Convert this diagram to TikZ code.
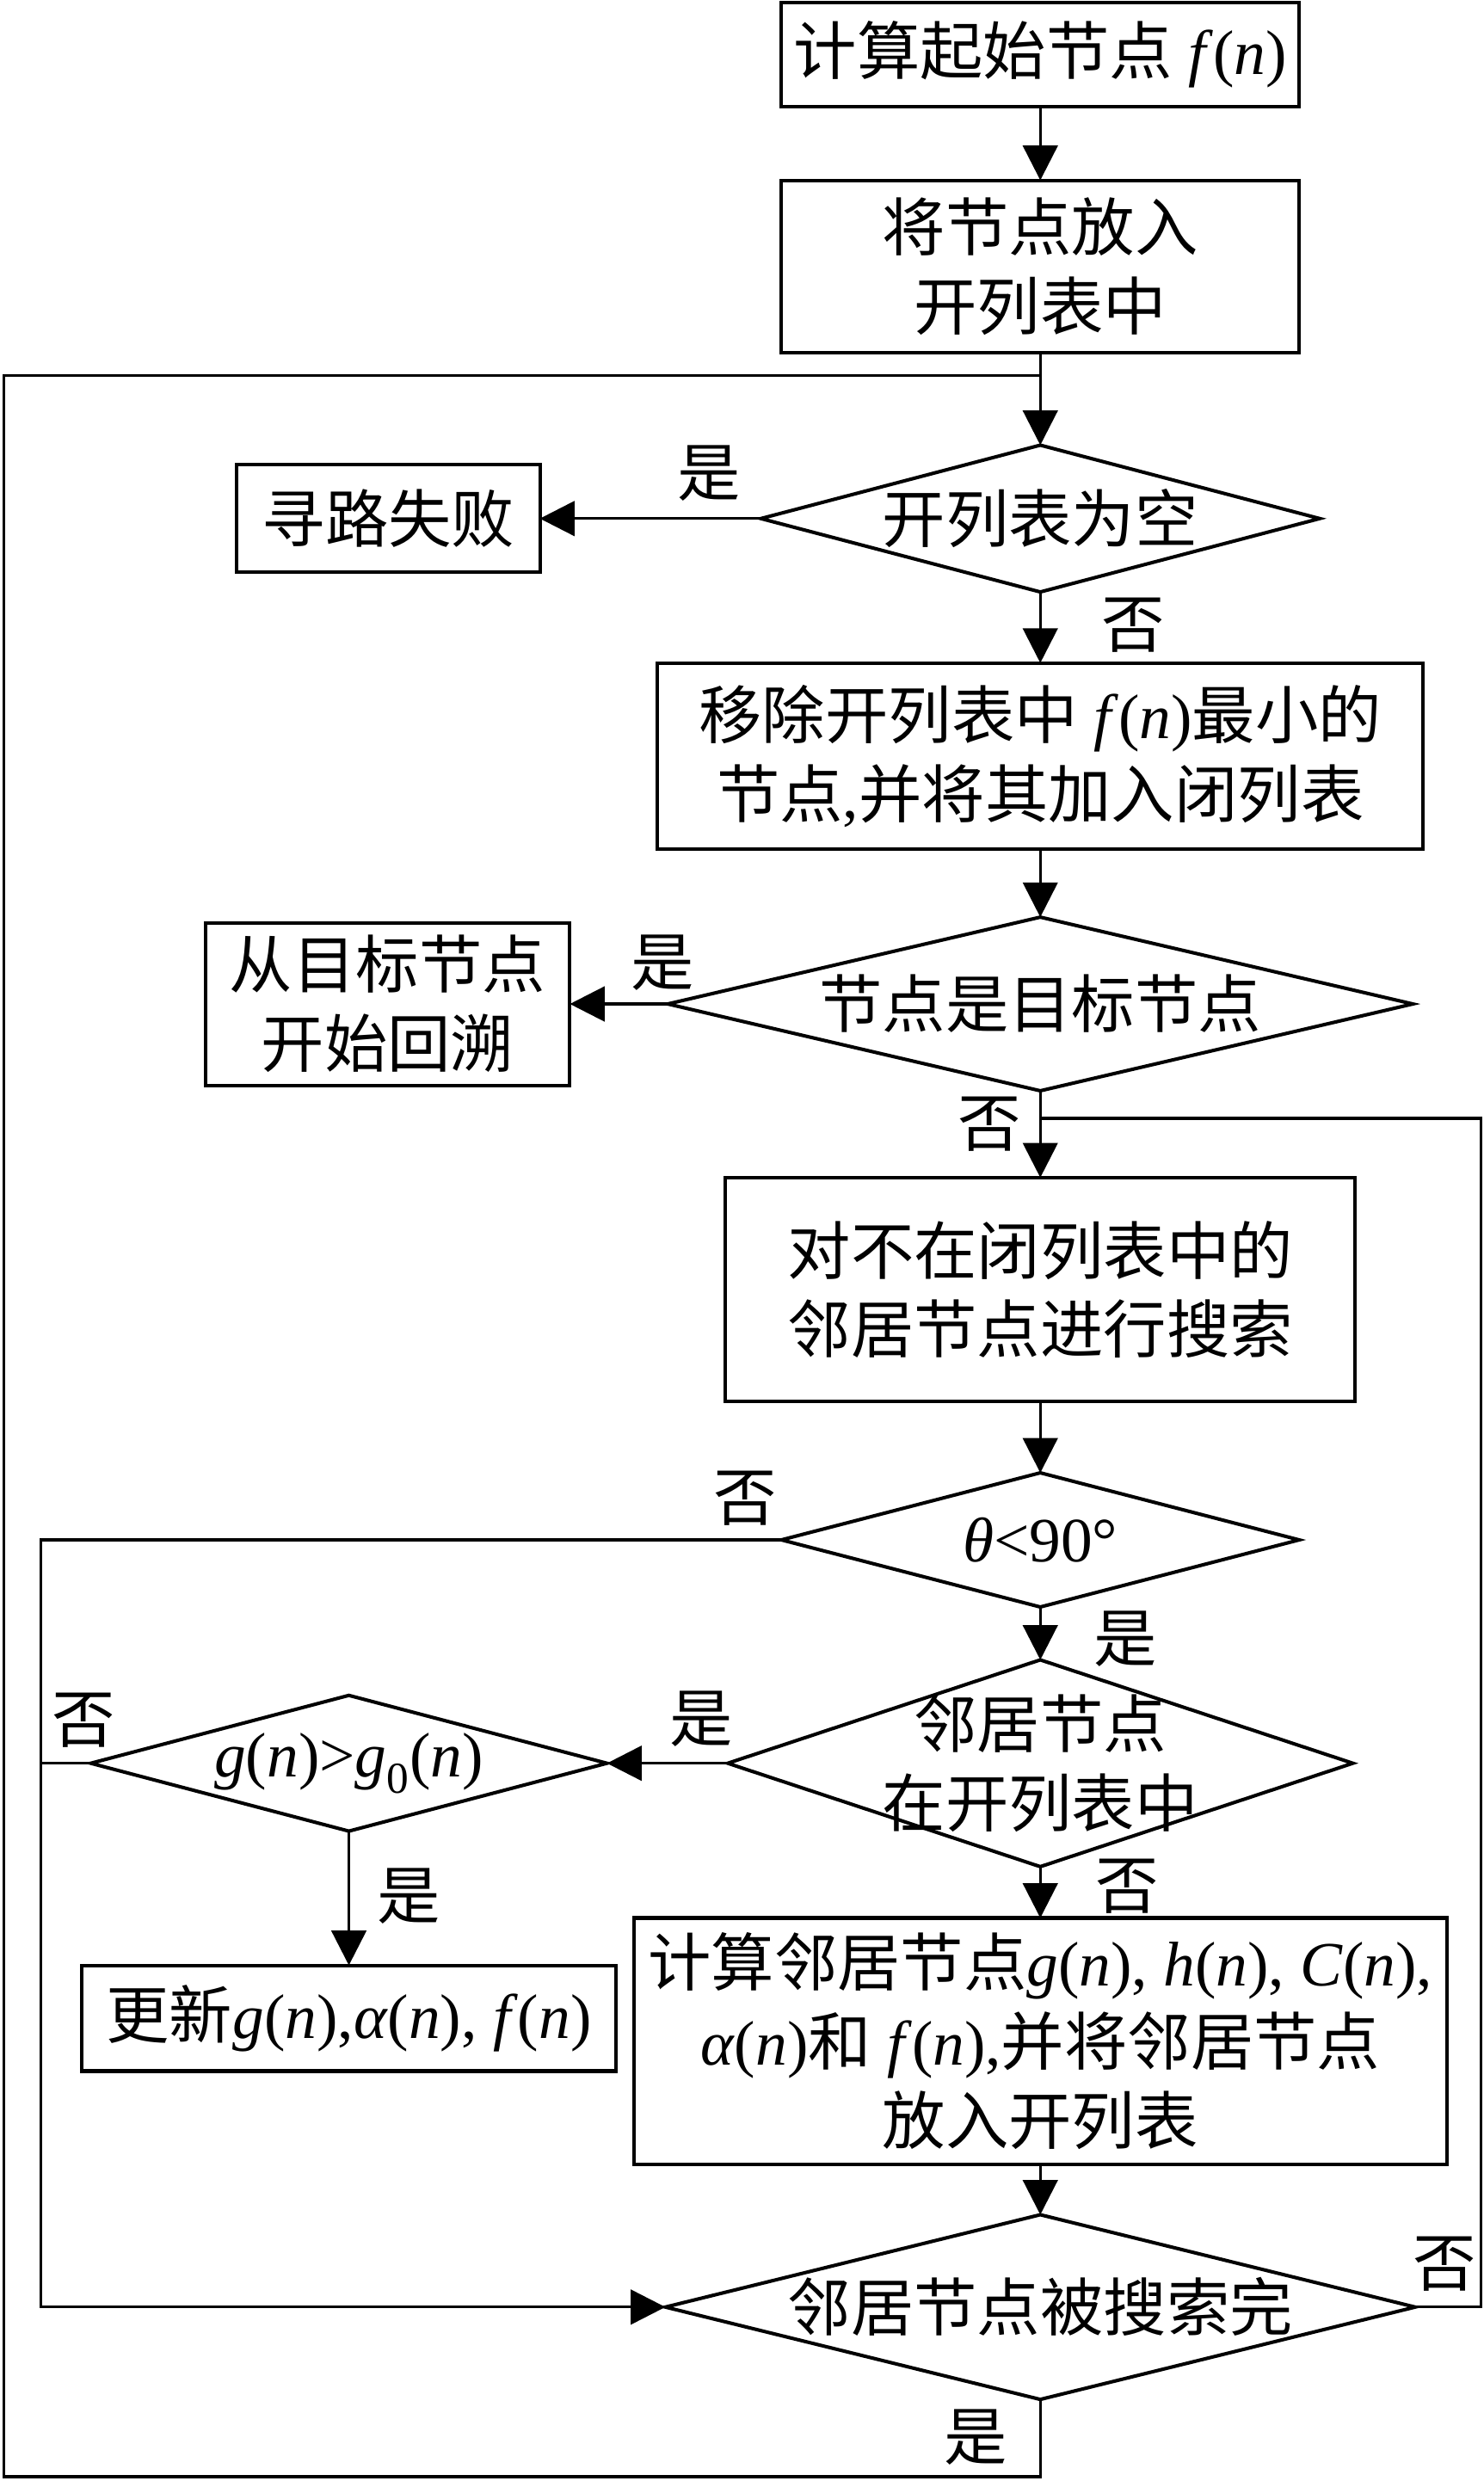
\documentclass[tikz,border=0pt]{standalone}
\usepackage{fontspec}
\setmainfont{Liberation Serif}
\newfontfamily\cjkfont{Noto Sans CJK SC}
\usetikzlibrary{shapes.geometric,arrows.meta}
\newcommand{\zh}[1]{{\cjkfont #1}}
\newcommand{\mi}[1]{\textit{#1}}

\begin{document}
\begin{tikzpicture}[x=1pt,y=-1pt,
    font=\fontsize{40}{50}\selectfont,
    >={Triangle[length=22pt,width=22pt]},
    line width=1.8pt,
    box/.style={draw,rectangle,line width=2.2pt,align=center,inner sep=2pt,outer sep=0pt},
    decision/.style={draw,diamond,line width=2.2pt,inner sep=0pt,outer sep=0pt},
    txt/.style={align=center,inner sep=0pt},
    lbl/.style={inner sep=0pt}]
   \useasboundingbox (0,0) rectangle (940,1571.7);

   % main column
   \node[box, minimum width=328pt, minimum height=66pt] (start) at (659,34.5) {\zh{计算起始节点} \mi{f}(\mi{n})};
   \node[box, minimum width=328pt, minimum height=109pt] (put) at (659,168.7) {\zh{将节点放入}\\\zh{开列表中}};
   \node[decision, minimum width=354pt, minimum height=93pt, label={[txt]center:{\zh{开列表为空}}}] (empty) at (659,328.5) {};
   \node[box, minimum width=192pt, minimum height=68pt] (fail) at (246,328.5) {\zh{寻路失败}};
   \node[box, minimum width=485pt, minimum height=118pt] (remove) at (659,479) {\zh{移除开列表中} \mi{f}(\mi{n})\zh{最小的}\\\zh{节点},\zh{并将其加入闭列表}};
   \node[decision, minimum width=472pt, minimum height=110pt, label={[txt]center:{\zh{节点是目标节点}}}] (goal) at (659,636) {};
   \node[box, minimum width=231pt, minimum height=103pt] (back_trace) at (245.5,636) {\zh{从目标节点}\\\zh{开始回溯}};
   \node[box, minimum width=399pt, minimum height=142pt] (search) at (659,817) {\zh{对不在闭列表中的}\\\zh{邻居节点进行搜索}};
   \node[decision, minimum width=328pt, minimum height=85pt, label={[txt]center:{\mi{θ}<90°}}] (angle) at (659,975.5) {};
   \node[decision, minimum width=396pt, minimum height=131pt, label={[txt]center:{\zh{邻居节点}\\\zh{在开列表中}}}] (in_open) at (659,1117) {};
   \node[decision, minimum width=327pt, minimum height=86pt, label={[txt]center:{\mi{g}(\mi{n})>\mi{g}\textsubscript{0}(\mi{n})}}] (cost) at (221,1117) {};
   \node[box, minimum width=338pt, minimum height=67pt] (update) at (221,1278.5) {\zh{更新}\mi{g}(\mi{n}),\mi{α}(\mi{n}), \mi{f}(\mi{n})};
   \node[box, minimum width=515pt, minimum height=156pt] (calc) at (659,1293) {\zh{计算邻居节点}\mi{g}(\mi{n}), \mi{h}(\mi{n}), \mi{C}(\mi{n}),\\\mi{α}(\mi{n})\zh{和} \mi{f}(\mi{n}),\zh{并将邻居节点}\\\zh{放入开列表}};
   \node[decision, minimum width=475pt, minimum height=117pt, label={[txt]center:{\zh{邻居节点被搜索完}}}] (done) at (659,1461.5) {};

   % yes / no
   \node[lbl] (yes_empty) at (449,300) {\zh{是}};
   \node[lbl] (no_empty) at (718,396) {\zh{否}};
   \node[lbl] (yes_goal) at (420,610) {\zh{是}};
   \node[lbl] (no_goal) at (627,712) {\zh{否}};
   \node[lbl] (no_angle) at (472,949) {\zh{否}};
   \node[lbl] (yes_angle) at (713,1038) {\zh{是}};
   \node[lbl] (yes_open) at (444,1089) {\zh{是}};
   \node[lbl] (no_cost) at (53,1090) {\zh{否}};
   \node[lbl] (yes_cost) at (259,1201) {\zh{是}};
   \node[lbl] (no_open) at (714,1195) {\zh{否}};
   \node[lbl] (no_done) at (915,1434) {\zh{否}};
   \node[lbl] (yes_done) at (618,1544) {\zh{是}};

   \coordinate (top_join) at (659,238);
   \coordinate (bottom_left) at (2.5,1569);
   \coordinate (right_top) at (938,708.5);
   \coordinate (inner_left) at (25.8,1117);

   \path[->]
    (start) edge (put)
    (put) edge (empty)
    (empty) edge (fail)
    (empty) edge (remove)
    (remove) edge (goal)
    (goal) edge (back_trace)
    (goal) edge (search)
    (search) edge (angle)
    (angle) edge (in_open)
    (in_open) edge (cost)
    (cost) edge (update)
    (in_open) edge (calc)
    (calc) edge (done);

   % loops
   \draw (done.south) |- (bottom_left) |- (top_join);
   \draw (done.east) -| (right_top) -- (right_top -| goal);
   \draw[->] (angle.west) -| (inner_left) |- (done.west);
   \draw (cost.west) -- (inner_left);
\end{tikzpicture}
\end{document}
